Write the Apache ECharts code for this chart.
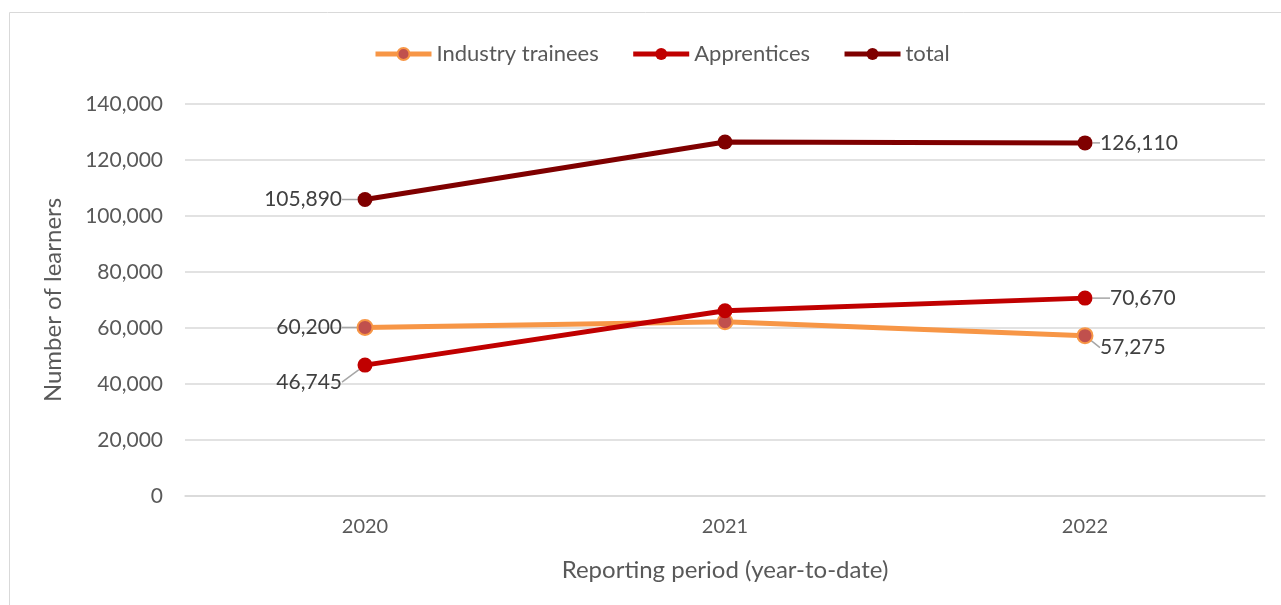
<!DOCTYPE html>
<html><head><meta charset="utf-8">
<script src="https://cdn.jsdelivr.net/npm/echarts@6/dist/echarts.min.js"></script>
<style>html,body{margin:0;padding:0;background:#fff}#c{width:1281px;height:605px}</style>
</head><body><div id="c"></div>
<script>
const categories = ['2020', '2021', '2022'];
const industryTrainees = [60200, 62250, 57275];
const apprentices = [46745, 66180, 70670];
const total = [105890, 126430, 126110];
const seriesNames = ['Industry trainees', 'Apprentices', 'total'];
const yTicks = [0, 20000, 40000, 60000, 80000, 100000, 120000, 140000];
// which points carry a data label (by category index)
const labelled = [0, 2];

const FONT = 'Lato, "Open Sans", sans-serif';
const fmt = v => v.toLocaleString('en-US');

function mk(values) {
  return values.map((v, i) => ({ value: v, label: { show: labelled.includes(i) } }));
}
// label placement relative to the marker centre: [dx, dy, align] per category index
function layoutFor(place) {
  return function (p) {
    const pl = place[p.dataIndex];
    if (!pl) return {};
    const cx = p.rect.x + p.rect.width / 2, cy = p.rect.y + p.rect.height / 2;
    return { x: cx + pl[0], y: cy + pl[1], align: pl[2], verticalAlign: 'middle' };
  };
}
const labelStyle = { formatter: p => fmt(p.value), color: '#404040', fontSize: 21, fontFamily: FONT };
const leader = { show: true, lineStyle: { color: '#a6a6a6', width: 1.5 } };

const chart = echarts.init(document.getElementById('c'), null, { renderer: 'canvas' });
chart.setOption({
  animation: false,
  textStyle: { fontFamily: FONT },
  graphic: [{ type: 'rect', shape: { x: 9.5, y: 12.5, width: 1400, height: 700 },
    style: { fill: 'none', stroke: '#d9d9d9', lineWidth: 1 }, silent: true, z: -1 }],
  legend: {
    top: 38, left: 368, itemWidth: 56, itemHeight: 15, itemGap: 32,
    textStyle: { color: '#595959', fontSize: 22, fontFamily: FONT },
    lineStyle: { width: 5 },
    data: seriesNames
  },
  grid: { left: 185, right: 16, top: 104, bottom: 109 },
  xAxis: {
    type: 'category', data: categories, boundaryGap: true,
    axisLine: { lineStyle: { color: '#d9d9d9', width: 1.5 } },
    axisTick: { show: false },
    axisLabel: { color: '#595959', fontSize: 20, fontFamily: FONT, margin: 21 },
    name: 'Reporting period (year-to-date)', nameLocation: 'middle', nameGap: 62,
    nameTextStyle: { color: '#595959', fontSize: 24, fontFamily: FONT }
  },
  yAxis: {
    type: 'value', min: yTicks[0], max: yTicks[yTicks.length - 1], interval: yTicks[1] - yTicks[0],
    axisLine: { show: false }, axisTick: { show: false },
    splitLine: { lineStyle: { color: '#d9d9d9', width: 1.5 } },
    axisLabel: { color: '#595959', fontSize: 21, fontFamily: FONT, margin: 22, formatter: v => fmt(v) },
    name: 'Number of learners', nameLocation: 'middle', nameGap: 120, nameRotate: 90,
    nameTextStyle: { color: '#595959', fontSize: 24, fontFamily: FONT }
  },
  series: [
    {
      name: seriesNames[0], type: 'line', data: mk(industryTrainees),
      symbol: 'circle', symbolSize: 15, z: 2,
      lineStyle: { color: '#F79646', width: 5 },
      itemStyle: { color: '#C0504D', borderColor: '#F79646', borderWidth: 2 },
      label: labelStyle, labelLine: leader,
      labelLayout: layoutFor({ 0: [-23, 0, 'right'], 2: [15, 12, 'left'] })
    },
    {
      name: seriesNames[1], type: 'line', data: mk(apprentices),
      symbol: 'circle', symbolSize: 15, z: 3,
      lineStyle: { color: '#C00000', width: 5 },
      itemStyle: { color: '#C00000' },
      label: labelStyle, labelLine: leader,
      labelLayout: layoutFor({ 0: [-23, 17, 'right'], 2: [25, 0, 'left'] })
    },
    {
      name: seriesNames[2], type: 'line', data: mk(total),
      symbol: 'circle', symbolSize: 15, z: 4,
      lineStyle: { color: '#7F0000', width: 5 },
      itemStyle: { color: '#7F0000' },
      label: labelStyle, labelLine: leader,
      labelLayout: layoutFor({ 0: [-23, 0, 'right'], 2: [15, 0, 'left'] })
    }
  ]
});
</script></body></html>
